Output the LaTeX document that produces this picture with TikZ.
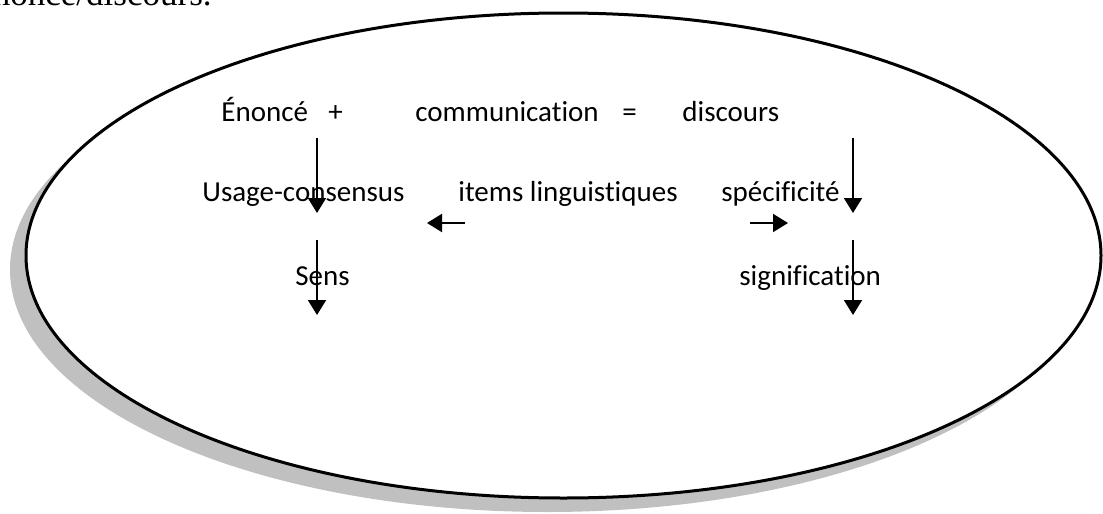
\documentclass[tikz,border=0pt]{standalone}
\usepackage{fontspec}
\setmainfont{Carlito}[Ligatures={NoCommon,NoRare,NoDiscretionary}]
\newfontfamily\serifont{Liberation Serif}
\usetikzlibrary{arrows.meta}
\definecolor{shadowgray}{RGB}{192,192,192}
\begin{document}
\begin{tikzpicture}[x=0.5pt,y=-0.5pt,
 lbl/.style={anchor=base west, inner sep=0pt, font=\fontsize{14.5}{17}\selectfont},
 arr/.style={line width=1pt, -{Triangle[length=7.5pt,width=9pt]}},
 oval/.style={line width=1.5pt, draw=black, fill=white},
]
\useasboundingbox (0,0) rectangle (1103,514);
\clip (0,0) rectangle (1103,514);
\node[anchor=base east, inner sep=0pt, font=\serifont\fontsize{17.5}{20}\selectfont] (title) at (212,5) {l'énoncé/discours.};
% shadow and oval
\fill[shadowgray] (547.5,269.5) ellipse [x radius=268.75pt, y radius=121.25pt];
\draw[oval] (563.5,255.5) ellipse [x radius=268.75pt, y radius=121.25pt];
% row 1
\node[lbl] (enonce) at (221,121.5) {Énoncé};
\node[lbl] (plus) at (328,121.5) {+};
\node[lbl] (comm) at (415,121.5) {communication};
\node[lbl] (eq) at (622,121.5) {=};
\node[lbl] (disc) at (682,121.5) {discours};
% row 2
\node[lbl] (usage) at (202,201.7) {Usage-consensus};
\node[lbl] (items) at (458,201.7) {items linguistiques};
\node[lbl] (spec) at (721,201.7) {spécificité};
% row 3
\node[lbl] (sens) at (295,285) {Sens};
\node[lbl] (signif) at (739,285) {signification};
% arrow end points
\coordinate (l1s) at (317,138); \coordinate (l1e) at (317,213);
\coordinate (l2s) at (317,240); \coordinate (l2e) at (317,315);
\coordinate (r1s) at (853,138); \coordinate (r1e) at (853,213);
\coordinate (r2s) at (853,240); \coordinate (r2e) at (853,315);
\coordinate (hls) at (465,223); \coordinate (hle) at (427,223);
\coordinate (hrs) at (750,223); \coordinate (hre) at (788,223);
\draw[arr] (l1s) -- (l1e);
\draw[arr] (l2s) -- (l2e);
\draw[arr] (r1s) -- (r1e);
\draw[arr] (r2s) -- (r2e);
\draw[arr] (hls) -- (hle);
\draw[arr] (hrs) -- (hre);
\end{tikzpicture}
\end{document}
